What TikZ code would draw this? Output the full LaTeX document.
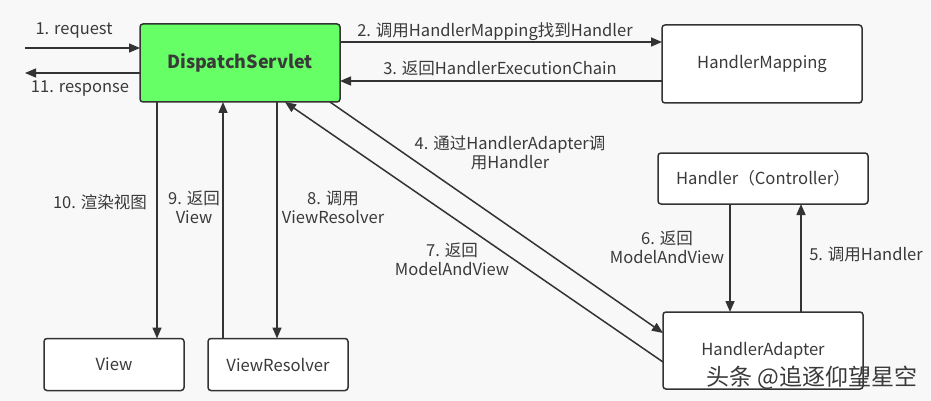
\documentclass[tikz,border=0pt]{standalone}
\usepackage{fontspec}
\setmainfont{Noto Sans CJK SC}
\usetikzlibrary{arrows.meta}
\definecolor{bgC}{HTML}{F8F8F8}
\definecolor{lineC}{HTML}{333333}
\definecolor{txtC}{HTML}{3A3A3A}
\definecolor{dsGreen}{HTML}{66FF66}
\begin{document}
\begin{tikzpicture}[x=1pt,y=-1pt,
  box/.style={draw=lineC, line width=1.5pt, rounded corners=3pt, fill=white,
    inner sep=0pt, outer sep=0pt, font=\fontsize{16.6}{19}\selectfont, text=txtC},
  arr/.style={draw=lineC, line width=1.5pt, -{Triangle[length=11pt,width=9pt]}},
  lbl/.style={font=\fontsize{16.5}{19}\selectfont, text=txtC, align=center, inner sep=0pt}]
\fill[bgC] (0,0) rectangle (931,401);
\useasboundingbox (0,0) rectangle (931,401);
% boxes
\node[box, fill=dsGreen, minimum width=200pt, minimum height=78pt,
  font=\fontsize{18}{21}\selectfont\bfseries] (ds) at (240,63) {DispatchServlet};
\node[box, minimum width=200pt, minimum height=78pt] (hm) at (762,64) {HandlerMapping};
\node[box, minimum width=210pt, minimum height=51pt] (hc) at (763,178.5) {Handler（Controller）};
\node[box, minimum width=200pt, minimum height=77pt] (ha) at (763,350.5) {HandlerAdapter};
\node[box, minimum width=140pt, minimum height=52pt] (view) at (114,364.5) {View};
\node[box, minimum width=140pt, minimum height=52pt] (vr) at (278,364.5) {ViewResolver};
% free ends
\coordinate (reqS) at (25,48);
\coordinate (resE) at (25,73);
% connectors
\draw[arr] (reqS) -- (ds.west |- reqS);
\draw[arr] (ds.west |- resE) -- (resE);
\draw[arr] ([yshift=21pt]ds.east) -- ([yshift=21pt]hm.west |- ds.east);
\draw[arr] ([yshift=-18pt]hm.west |- ds.east) -- ([yshift=-18pt]ds.east);
\draw[arr] ([xshift=17pt]ds.south west) -- ([xshift=43pt]view.north);
\draw[arr] ([xshift=15pt]vr.north west) -- ([xshift=83pt]ds.south west);
\draw[arr] ([xshift=137pt]ds.south west) -- ([xshift=-1pt]vr.north);
\draw[arr] ([xshift=-10pt]ds.south east) -- ([yshift=-21pt]ha.north west);
\draw[arr] ([yshift=-50pt]ha.north west) -- ([xshift=145pt]ds.south west);
\draw[arr] ([xshift=72pt]hc.south west) -- ([xshift=67pt]ha.north west);
\draw[arr] ([xshift=138pt]ha.north west) -- ([xshift=143pt]hc.south west);
% labels
\node[lbl] (l1) at (74,31) {1. request};
\node[lbl] (l11) at (80,89) {11. response};
\node[lbl] (l2) at (495,32) {2. 调用HandlerMapping找到Handler};
\node[lbl] (l3) at (500,68) {3. 返回HandlerExecutionChain};
\node[lbl] (l4) at (510,153) {4. 通过HandlerAdapter调\\用Handler};
\node[lbl] (l10) at (100,202) {10. 渲染视图};
\node[lbl] (l9) at (194,207) {9. 返回\\View};
\node[lbl] (l8) at (333,207) {8. 调用\\ViewResolver};
\node[lbl] (l7) at (452,259) {7. 返回\\ModelAndView};
\node[lbl] (l6) at (667,247) {6. 返回\\ModelAndView};
\node[lbl] (l5) at (866,254) {5. 调用Handler};
\node[lbl, font=\fontsize{23}{26}\selectfont] (wm) at (812,378) {头条 @追逐仰望星空};
\end{tikzpicture}
\end{document}
